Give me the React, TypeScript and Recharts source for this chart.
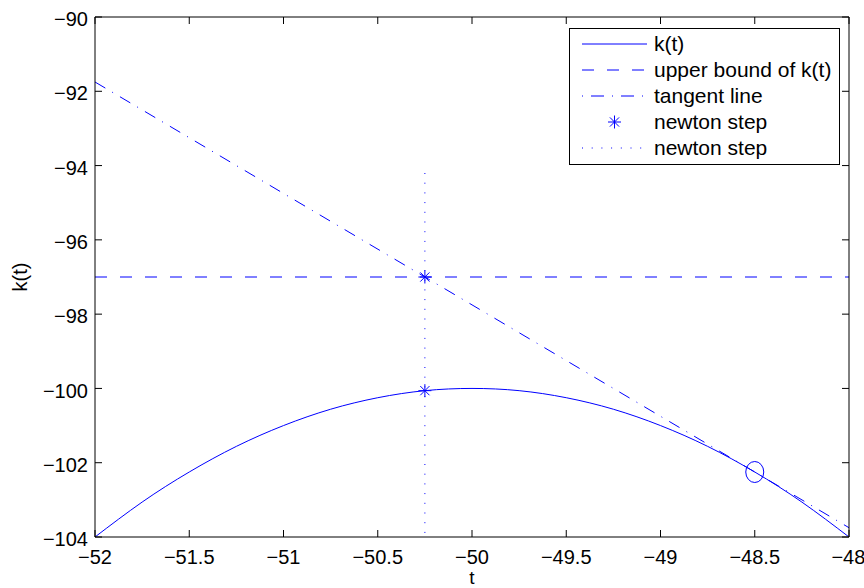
import { ComposedChart, Line, Scatter, XAxis, YAxis, Legend } from 'recharts'

// k(t) curve
const curveT = [-52, -51.75, -51.5, -51.25, -51, -50.75, -50.5, -50.25, -50, -49.75, -49.5, -49.25, -49, -48.75, -48.5, -48.25, -48]
const curveK = [-104, -103.06, -102.25, -101.56, -101, -100.56, -100.25, -100.06, -100, -100.06, -100.25, -100.56, -101, -101.56, -102.25, -103.06, -104]

const upperT = [-52, -48]
const upperK = [-97, -97]

const tangentT = [-52, -48]
const tangentK = [-91.75, -103.75]

const stepT = [-50.25, -50.25]
const stepK = [-97, -100.06]

const stepLineT = [-50.25, -50.25]
const stepLineK = [-94.2, -104]

const touchT = [-48.5]
const touchK = [-102.25]

const xTicks = [-52, -51.5, -51, -50.5, -50, -49.5, -49, -48.5, -48]
const yTicks = [-104, -102, -100, -98, -96, -94, -92, -90]

const legendNames = ['k(t)', 'upper bound of k(t)', 'tangent line', 'newton step', 'newton step']

const BLUE = '#0000ff'
const FONT = '"Liberation Sans", Arial, Helvetica, sans-serif'

const pts = (ts: number[], ks: number[]) => ts.map((t, i) => ({ t, k: ks[i] }))
const fmt = (v: number) => String(v).replace('-', '\u2212')
const blank = () => ''

const Star = (props: any) => {
  const { cx, cy } = props
  return (
    <g stroke={BLUE} strokeWidth={1}>
      <line x1={cx - 6.5} y1={cy} x2={cx + 6.5} y2={cy} />
      <line x1={cx} y1={cy - 6.5} x2={cx} y2={cy + 6.5} />
      <line x1={cx - 4.6} y1={cy - 4.6} x2={cx + 4.6} y2={cy + 4.6} />
      <line x1={cx - 4.6} y1={cy + 4.6} x2={cx + 4.6} y2={cy - 4.6} />
    </g>
  )
}

const Ring = (props: any) => {
  const { cx, cy } = props
  return <ellipse cx={cx} cy={cy} rx={9} ry={10.5} fill="none" stroke={BLUE} strokeWidth={1} />
}

function LegendBox() {
  const dashes = [undefined, '12 13', '1 8 13 8', undefined, '1 8.7']
  return (
    <svg width={271} height={137} style={{ display: 'block', fontFamily: FONT }}>
      <rect x={0.5} y={0.5} width={270} height={136} fill="#fff" stroke="#000" strokeWidth={1} />
      {legendNames.map((name, i) => {
        const y = 16 + i * 26
        return (
          <g key={i}>
            {i === 3 ? (
              <Star cx={45.5} cy={y} />
            ) : (
              <line x1={13} y1={y} x2={78} y2={y} stroke={BLUE} strokeWidth={1} strokeDasharray={dashes[i]} />
            )}
            <text x={85} y={y + 7} fontSize={21} fill="#000">
              {name}
            </text>
          </g>
        )
      })}
    </svg>
  )
}

export default function App() {
  const axisLine = { stroke: '#000', strokeWidth: 1 }
  const tickStyle = { fill: '#000', fontSize: 20, fontFamily: FONT }
  return (
    <div style={{ position: 'absolute', left: 0, top: 0, width: 864, height: 588, background: '#fff' }}>
      <ComposedChart width={864} height={588} margin={{ top: 0, right: 0, bottom: 0, left: 0 }}>
        <XAxis
          xAxisId="b"
          dataKey="t"
          type="number"
          domain={[-52, -48]}
          ticks={xTicks}
          allowDataOverflow
          height={51}
          tickSize={-7}
          tickMargin={20}
          tickFormatter={fmt}
          tick={tickStyle}
          axisLine={axisLine}
          tickLine={{ stroke: '#000' }}
          label={({ viewBox }: any) => (
            <text x={viewBox.x + viewBox.width / 2} y={584} textAnchor="middle" fontSize={19} fontFamily={FONT} fill="#000">
              t
            </text>
          )}
        />
        <XAxis
          xAxisId="top"
          orientation="top"
          dataKey="t"
          type="number"
          domain={[-52, -48]}
          ticks={xTicks}
          allowDataOverflow
          height={17}
          tickSize={-7}
          tickFormatter={blank}
          axisLine={axisLine}
          tickLine={{ stroke: '#000' }}
        />
        <YAxis
          yAxisId="l"
          type="number"
          domain={[-104, -90]}
          ticks={yTicks}
          allowDataOverflow
          width={95}
          tickSize={-7}
          tickMargin={14}
          tickFormatter={fmt}
          tick={{ ...tickStyle, dy: 2 }}
          axisLine={axisLine}
          tickLine={{ stroke: '#000' }}
          label={({ viewBox }: any) => (
            <text
              x={27}
              y={viewBox.y + viewBox.height / 2}
              transform={`rotate(-90, 27, ${viewBox.y + viewBox.height / 2})`}
              textAnchor="middle"
              fontSize={20}
              fontFamily={FONT}
              fill="#000"
            >
              k(t)
            </text>
          )}
        />
        <YAxis
          yAxisId="r"
          orientation="right"
          type="number"
          domain={[-104, -90]}
          ticks={yTicks}
          allowDataOverflow
          width={15}
          tickSize={-7}
          tickFormatter={blank}
          axisLine={axisLine}
          tickLine={{ stroke: '#000' }}
        />
        <Line xAxisId="b" yAxisId="l" data={pts(curveT, curveK)} dataKey="k" type="natural" stroke={BLUE} strokeWidth={1} dot={false} isAnimationActive={false} legendType="none" />
        <Line xAxisId="b" yAxisId="l" data={pts(upperT, upperK)} dataKey="k" type="linear" stroke={BLUE} strokeWidth={1} strokeDasharray="12 13" dot={false} isAnimationActive={false} legendType="none" />
        <Line xAxisId="b" yAxisId="l" data={pts(tangentT, tangentK)} dataKey="k" type="linear" stroke={BLUE} strokeWidth={1} strokeDasharray="12 8 1 8" dot={false} isAnimationActive={false} legendType="none" />
        <Line xAxisId="b" yAxisId="l" data={pts(stepLineT, stepLineK)} dataKey="k" type="linear" stroke={BLUE} strokeWidth={1} strokeDasharray="1 8.7" dot={false} isAnimationActive={false} legendType="none" />
        <Scatter xAxisId="b" yAxisId="l" data={pts(stepT, stepK)} dataKey="k" shape={Star} isAnimationActive={false} legendType="none" />
        <Scatter xAxisId="b" yAxisId="l" data={pts(touchT, touchK)} dataKey="k" shape={Ring} isAnimationActive={false} legendType="none" />
        <Legend
          layout="horizontal"
          verticalAlign="middle"
          align="center"
          content={() => <LegendBox />}
          wrapperStyle={{ left: 569, top: 28, width: 271, height: 137 }}
        />
      </ComposedChart>
    </div>
  )
}
